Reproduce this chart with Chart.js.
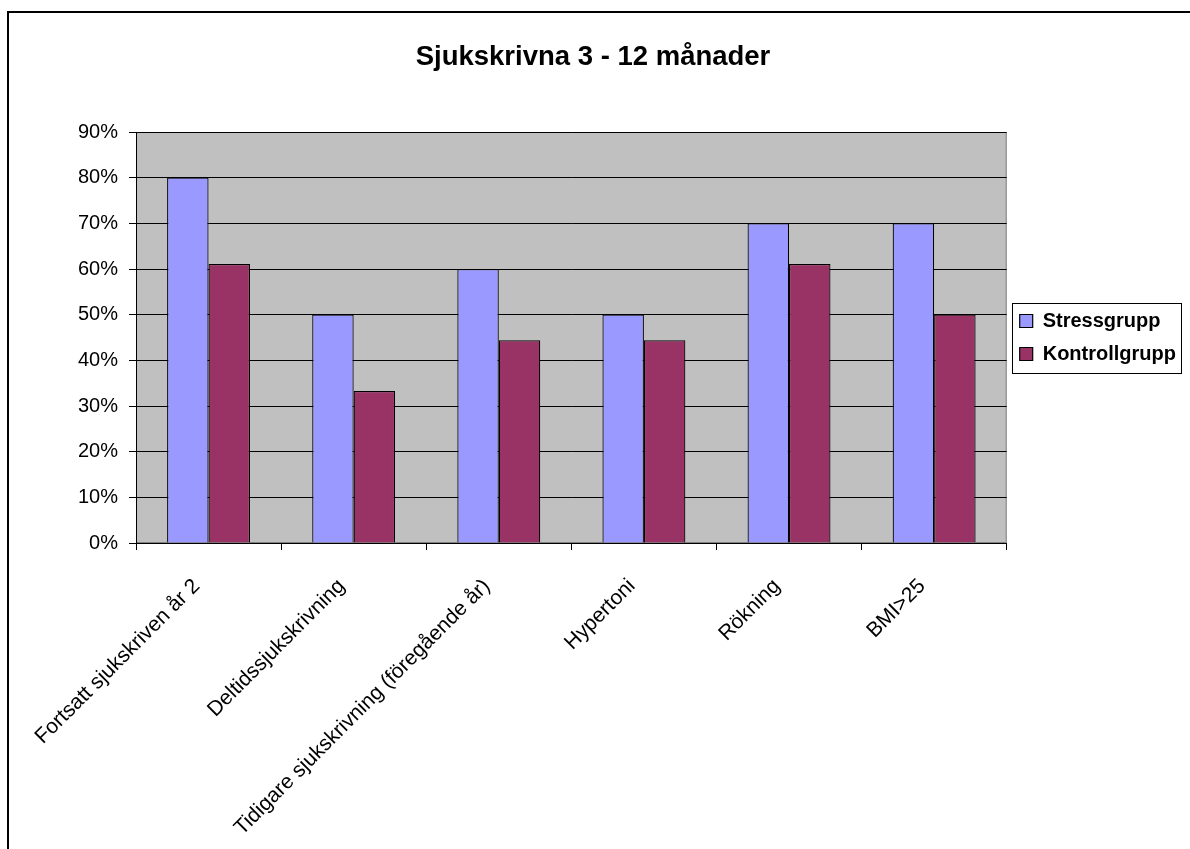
<!DOCTYPE html>
<html>
<head>
<meta charset="utf-8">
<title>Sjukskrivna 3 - 12 månader</title>
<script src="https://cdn.jsdelivr.net/npm/chart.js@4"></script>
<style>
  html, body { margin: 0; padding: 0; background: #fff; }
  #wrap { width: 1190px; height: 849px; }
</style>
</head>
<body>
<div id="wrap"><canvas id="sickChart"></canvas></div>
<script>
// Data
const categories = [
    'Fortsatt sjukskriven år 2',
    'Deltidssjukskrivning',
    'Tidigare sjukskrivning (föregående år)',
    'Hypertoni',
    'Rökning',
    'BMI>25'
];
const stressValues = [80, 50, 60, 50, 70, 70];
const kontrollValues = [61.1, 33.3, 44.4, 44.4, 61.1, 50];
const yTicks = [0, 10, 20, 30, 40, 50, 60, 70, 80, 90];

// Plot background, plot border, legend frame and outer frame
const excelFrame = {
    id: 'excelFrame',
    beforeDraw(chart) {
        const ctx = chart.ctx;
        const a = chart.chartArea;
        ctx.save();
        ctx.fillStyle = '#c0c0c0';
        ctx.fillRect(a.left, a.top, a.right - a.left, a.bottom - a.top);
        ctx.strokeStyle = '#808080';
        ctx.lineWidth = 1;
        ctx.strokeRect(a.left + 0.5, a.top + 0.5, a.right - a.left - 1, a.bottom - a.top - 1);
        ctx.restore();
    },
    afterDraw(chart) {
        const ctx = chart.ctx;
        ctx.save();
        // outer chart frame (runs off the bottom/right of the picture)
        ctx.strokeStyle = '#000';
        ctx.lineWidth = 2;
        ctx.strokeRect(8, 12, 1220, 900);
        // legend frame
        const hb = chart.legend.legendHitBoxes;
        if (hb && hb.length) {
            const left = hb[0].left - 8;
            const top = hb[0].top - 8;
            const right = Math.max(...hb.map(h => h.left + h.width)) + 5;
            const last = hb[hb.length - 1];
            const bottom = last.top + last.height + 9;
            ctx.lineWidth = 1;
            ctx.strokeStyle = '#000';
            ctx.strokeRect(Math.round(left) + 0.5, Math.round(top) + 0.5,
                Math.round(right - left), Math.round(bottom - top));
        }
        ctx.restore();
    }
};

Chart.defaults.font.family = 'Arial, "Liberation Sans", sans-serif';
Chart.defaults.color = '#000';

const ctx = document.getElementById('sickChart');
new Chart(ctx.getContext('2d'), {
    type: 'bar',
    data: {
        labels: categories,
        datasets: [{
            label: 'Stressgrupp',
            data: stressValues,
            backgroundColor: '#9999ff',
            borderColor: '#000',
            borderWidth: 1.2,
            categoryPercentage: 2 / 3.5,
            barPercentage: 1
        }, {
            label: 'Kontrollgrupp',
            data: kontrollValues,
            backgroundColor: '#993366',
            borderColor: '#000',
            borderWidth: 1.2,
            categoryPercentage: 2 / 3.5,
            barPercentage: 1
        }]
    },
    options: {
        responsive: true,
        maintainAspectRatio: false,
        animation: false,
        layout: {
            padding: { left: 0, right: 4, top: 0, bottom: 0 }
        },
        plugins: {
            title: {
                display: true,
                text: 'Sjukskrivna 3 - 12 månader',
                color: '#000',
                font: { size: 27.5, weight: 'bold' },
                padding: { top: 41, bottom: 58 }
            },
            legend: {
                position: 'right',
                fullSize: false,
                labels: {
                    color: '#000',
                    font: { size: 20, weight: 'bold' },
                    boxWidth: 13,
                    boxHeight: 13,
                    padding: 13
                }
            },
            tooltip: { enabled: false }
        },
        scales: {
            x: {
                afterFit: function(scale) {
                    scale.height = 306;
                },
                border: { color: '#000', width: 1 },
                grid: {
                    offset: true,
                    drawOnChartArea: false,
                    color: '#000',
                    tickLength: 7
                },
                ticks: {
                    autoSkip: false,
                    minRotation: 45,
                    maxRotation: 45,
                    padding: 24,
                    labelOffset: -12,
                    font: { size: 21 }
                }
            },
            y: {
                min: 0,
                max: 90,
                afterFit: function(scale) {
                    scale.width = 136;
                },
                afterBuildTicks: function(scale) {
                    scale.ticks = yTicks.map(v => ({ value: v }));
                },
                border: { color: '#000', width: 1 },
                grid: {
                    color: '#000',
                    lineWidth: 1,
                    tickLength: 7
                },
                ticks: {
                    padding: 11,
                    font: { size: 20 },
                    callback: function(value) {
                        return value + '%';
                    }
                }
            }
        }
    },
    plugins: [excelFrame]
});
</script>
</body>
</html>
